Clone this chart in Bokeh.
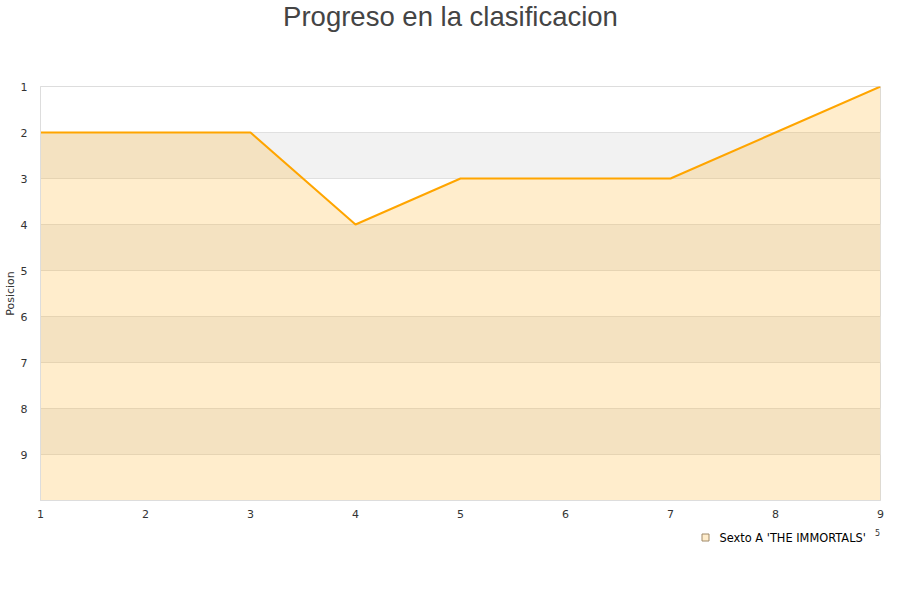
from bokeh.plotting import figure
from bokeh.layouts import column
from bokeh.models import Range1d, FixedTicker, Label, ColumnDataSource
from bokeh.embed import file_html
from bokeh.resources import INLINE

rounds = [1, 2, 3, 4, 5, 6, 7, 8, 9]
positions = [2, 2, 2, 4, 3, 3, 3, 2, 1]
team = "Sexto A 'THE IMMORTALS'"
title = "Progreso en la clasificacion"
band_starts = [2, 4, 6, 8]
y_ticks = [1, 2, 3, 4, 5, 6, 7, 8, 9]
worst_position = 10

W = 884


def blank(height):
    f = figure(width=W, height=height, output_backend="svg", toolbar_location=None,
               x_axis_location=None, y_axis_location=None,
               x_range=Range1d(0, 1), y_range=Range1d(0, 1),
               min_border=0, outline_line_color=None)
    f.xgrid.visible = False
    f.ygrid.visible = False
    return f


# ---- header with the title (frame is aligned with the chart frame, x=40..880)
head = blank(70)
head.add_layout(Label(x=410, y=54, x_units="screen", y_units="screen", text=title,
                      text_align="center", text_baseline="alphabetic",
                      text_font="Liberation Sans", text_font_size="27.5px",
                      text_color="#444444"))

# ---- main chart
p = figure(width=W, height=455, output_backend="svg", toolbar_location=None,
           x_range=Range1d(1, 9), y_range=Range1d(worst_position, 1),
           min_border_left=40, min_border_right=4, min_border_top=16, min_border_bottom=25)
p.outline_line_color = "#dddddd"
p.background_fill_color = "white"

p.quad(left=[rounds[0]] * len(band_starts), right=[rounds[-1]] * len(band_starts),
       bottom=band_starts, top=[b + 1 for b in band_starts],
       fill_color="#f2f2f2", line_color=None, level="underlay")

src = ColumnDataSource(dict(x=rounds, y=positions, y2=[worst_position] * len(rounds)))
p.varea(x="x", y1="y", y2="y2", source=src, fill_color="#ffa500", fill_alpha=0.2)
p.line(x="x", y="y", source=src, line_color="#ffa500", line_width=2)

p.xgrid.visible = False
p.ygrid.grid_line_color = "#e0e0e0"
p.ygrid.ticker = FixedTicker(ticks=y_ticks + [worst_position])

for ax in (p.xaxis[0], p.yaxis[0]):
    ax.major_tick_line_color = None
    ax.minor_tick_line_color = None
    ax.axis_line_color = "#dddddd"
    ax.major_label_text_font = "DejaVu Sans"
    ax.major_label_text_font_size = "11px"
    ax.major_label_text_color = "#333333"

p.xaxis.ticker = FixedTicker(ticks=rounds)
p.yaxis.ticker = FixedTicker(ticks=y_ticks)
p.xaxis.major_label_standoff = 3
p.yaxis.major_label_standoff = 7
p.yaxis.axis_label = "Posicion"
p.yaxis.axis_label_text_font = "DejaVu Sans"
p.yaxis.axis_label_text_font_size = "11px"
p.yaxis.axis_label_text_font_style = "normal"
p.yaxis.axis_label_text_color = "#333333"
p.yaxis.axis_label_standoff = 1

# ---- legend strip (frame aligned with chart frame)
leg = blank(40)
leg.add_layout(Label(x=665, y=28, x_units="screen", y_units="screen", text="\u2003",
                     text_align="center", text_baseline="middle", text_font_size="7px",
                     background_fill_color="#ffedcc", border_line_color="#a08a6a",
                     border_line_width=1, padding=0))
leg.add_layout(Label(x=679, y=28, x_units="screen", y_units="screen", text=team,
                     text_baseline="middle", text_font="DejaVu Sans",
                     text_font_size="11.4px", text_color="#000000"))
leg.add_layout(Label(x=837, y=33, x_units="screen", y_units="screen", text="5",
                     text_align="center", text_baseline="middle", text_font="DejaVu Sans",
                     text_font_size="8px", text_color="#333333"))

layout = column(head, p, leg, spacing=0)
open("out.html", "w").write(file_html(layout, INLINE))
